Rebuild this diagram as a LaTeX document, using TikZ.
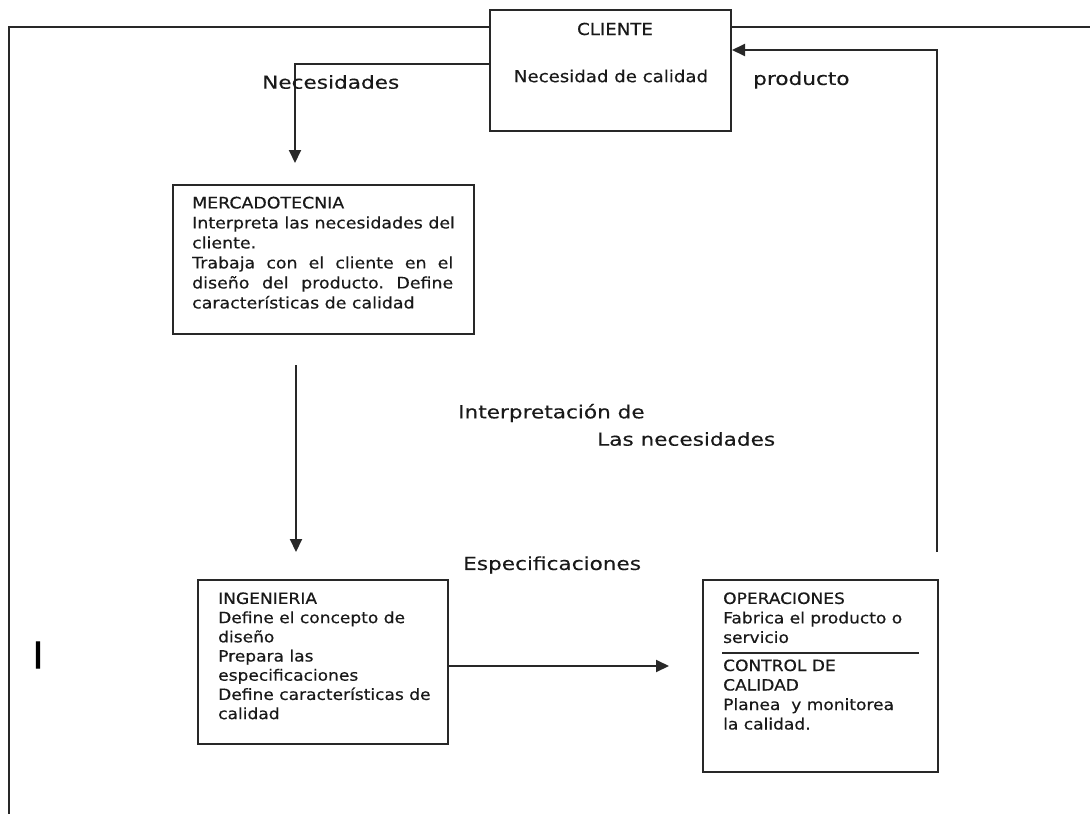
\documentclass[tikz,border=0pt]{standalone}
\usepackage{fontspec}
\setmainfont{DejaVu Sans}
\newfontfamily\labfont[FakeStretch=1.2,FakeBold=0.3]{DejaVu Sans}
\newfontfamily\bxfont[FakeStretch=1.1,FakeBold=0.4]{DejaVu Sans}
\newfontfamily\ifont[FakeBold=2.5]{DejaVu Sans}
\usetikzlibrary{arrows.meta}
\definecolor{linec}{RGB}{40,40,40}
\definecolor{txtc}{RGB}{25,25,25}
\tikzset{
  boxshape/.style={draw=linec, line width=2pt, rectangle, inner sep=0pt, fill=white},
  lab/.style={inner sep=0pt, anchor=west, text=txtc, font=\fontsize{18}{22}\labfont},
  boxtxt/.style={inner sep=0pt, anchor=north west, align=left, text=txtc},
  conn/.style={draw=linec, line width=2pt},
  arr/.style={conn, -{Triangle[length=13pt,width=12pt]}},
}
\begin{document}
\begin{tikzpicture}[x=1pt,y=-1pt]
\useasboundingbox (0,0) rectangle (1090,814);

% boxes
\node[boxshape, minimum width=241pt, minimum height=121pt] (cli) at (610.5,70.5) {};
\node[boxshape, minimum width=301pt, minimum height=149pt] (mer) at (323.5,259.5) {};
\node[boxshape, minimum width=250pt, minimum height=164pt] (ing) at (323,662) {};
\node[boxshape, minimum width=235pt, minimum height=192pt] (ope) at (820.5,676) {};

% coordinates
\coordinate (ftop) at (9,26.5);
\coordinate (fbot) at (9,814);
\coordinate (fright) at (1090,26.5);
\coordinate (necturn) at (295,64);
\coordinate (nectip) at (295,163);
\coordinate (prodtop) at (937,50);
\coordinate (prodbot) at (937,552);
\coordinate (mstart) at (296,365);
\coordinate (mtip) at (296,552);
\coordinate (itip) at (669,666);
\coordinate (ilev) at (0,666);

% outer frame
\draw[conn] (cli.west |- ftop) -- (ftop) -- (fbot);
\draw[conn] (cli.east |- fright) -- (fright);

% connectors
\draw[arr] (cli.west |- necturn) -- (necturn) -- (nectip);
\draw[arr] (prodbot) -- (prodtop) -- (cli.east |- prodtop);
\draw[arr] (mstart) -- (mtip);
\draw[arr] (ing.east |- ilev) -- (itip);

% labels
\node[lab] (lnec) at (262,82) {Necesidades};
\node[lab] (lprod) at (753,80) {producto};
\node[lab] (lint) at (458,413) {Interpretación de};
\node[lab] (llas) at (597,439) {Las necesidades};
\node[lab] (lesp) at (463,565) {Especificaciones};

% box texts
\node[inner sep=0pt, text=txtc, font=\fontsize{16.5}{20}\bxfont] (tcli1) at (615,29) {CLIENTE};
\node[inner sep=0pt, text=txtc, font=\fontsize{16.5}{20}\bxfont] (tcli2) at (611,76) {Necesidad de calidad};

\node[boxtxt, font=\fontsize{15.8}{20}\bxfont] (tmer) at (192,196.5) {%
MERCADOTECNIA\\
Interpreta las necesidades del\\
cliente.\\
\hbox to 261pt{Trabaja\hfill con\hfill el\hfill cliente\hfill en\hfill el}\\
\hbox to 261pt{diseño\hfill del\hfill producto.\hfill Define}\\
características de calidad};

\node[boxtxt, font=\fontsize{15.5}{19.2}\bxfont] (ting) at (218,592.2) {%
INGENIERIA\\
Define el concepto de\\
diseño\\
Prepara las\\
especificaciones\\
Define características de\\
calidad};

\node[boxtxt, font=\fontsize{15.5}{19.5}\bxfont] (tope1) at (723,592.2) {%
OPERACIONES\\
Fabrica el producto o\\
servicio};
\draw[conn] (722,653) -- (919,653);
\node[boxtxt, font=\fontsize{15.5}{19.5}\bxfont] (tope2) at (723,659.3) {%
CONTROL DE\\
CALIDAD\\
Planea\ \ y monitorea\\
la calidad.};

% stray mark
\node[inner sep=0pt, text=black, font=\fontsize{36}{40}\ifont] (imark) at (38,655) {I};
\end{tikzpicture}
\end{document}
